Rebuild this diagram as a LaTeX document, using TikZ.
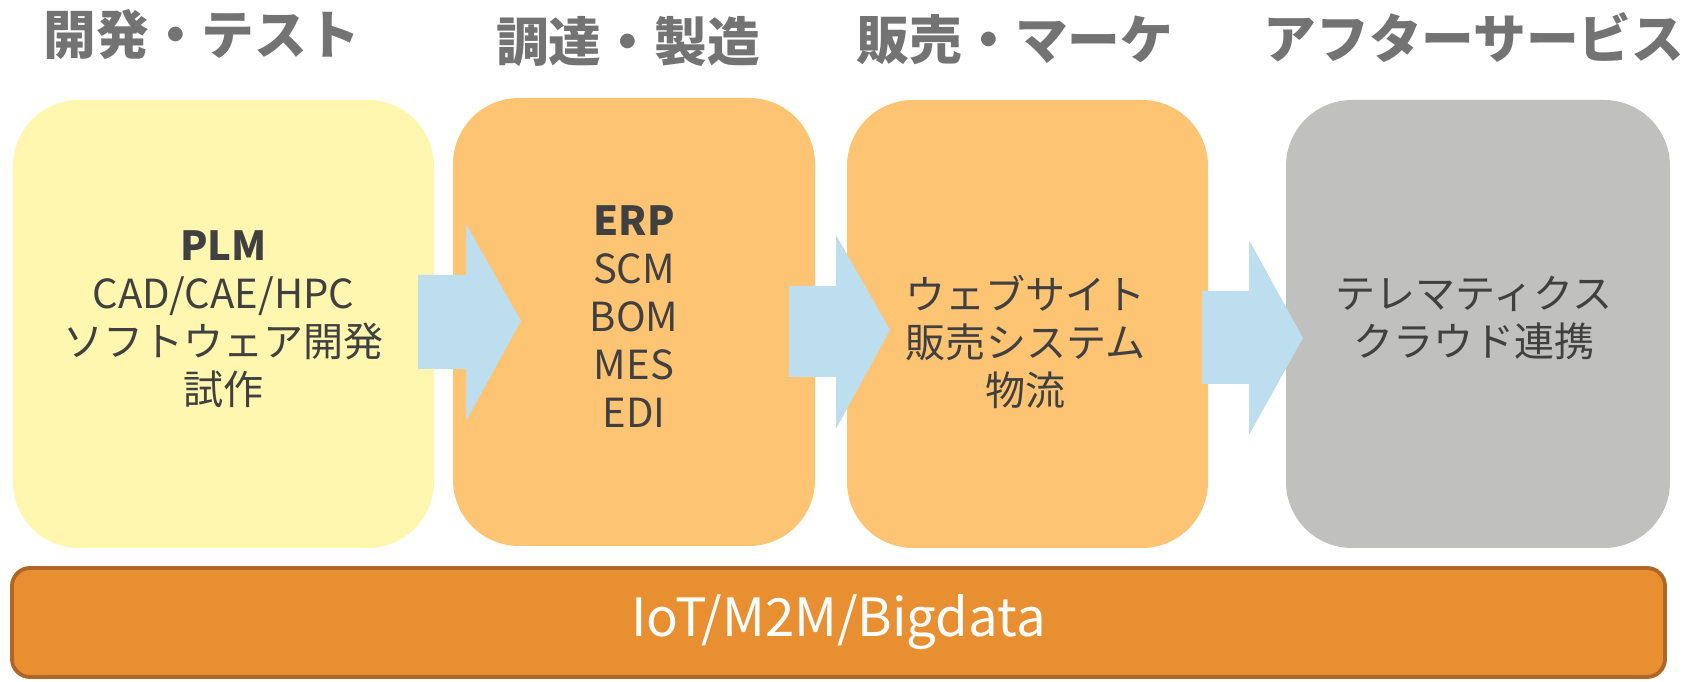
\documentclass[tikz,border=0pt]{standalone}
\usepackage{fontspec}
\setmainfont{Noto Sans CJK JP}
\usepackage{tkz-euclide}

\definecolor{plmYellow}{RGB}{255,246,176}
\definecolor{erpOrange}{RGB}{253,196,115}
\definecolor{svcGray}{RGB}{192,192,190}
\definecolor{flowBlue}{RGB}{189,222,238}
\definecolor{barOrange}{RGB}{232,143,50}
\definecolor{barEdge}{RGB}{176,102,38}
\definecolor{headGray}{RGB}{115,115,115}
\definecolor{bodyGray}{RGB}{64,64,64}

\begin{document}
\begin{tikzpicture}[
  stage/.style={rounded corners=0.66cm,inner sep=0pt,
    minimum width=#1,minimum height=4.48cm},
  head/.style={text=headGray,
    font=\fontsize{15pt}{18pt}\selectfont\bfseries},
  body/.style={text=bodyGray,align=center,
    font=\fontsize{11.4pt}{13.66pt}\selectfont}]
 \useasboundingbox (0,0) rectangle (16.91,6.81);
 % stages
 \node[stage=4.21cm,fill=plmYellow] (dev) at (2.235,3.57) {};
 \node[stage=3.62cm,fill=erpOrange] (mfg) at (6.34,3.59) {};
 \node[stage=3.61cm,fill=erpOrange] (mkt) at (10.275,3.57) {};
 \node[stage=3.84cm,fill=svcGray] (svc) at (14.78,3.57) {};
 % arrows between stages
 \tkzDefPoints{4.18/4.06/a_1,4.66/4.06/a_2,4.66/4.57/a_3,
   5.21/3.60/a_4,4.66/2.60/a_5,4.66/3.12/a_6,4.18/3.12/a_7}
 \tkzDefPoints{7.89/3.95/b_1,8.36/3.95/b_2,8.36/4.46/b_3,
   8.90/3.51/b_4,8.36/2.52/b_5,8.36/3.04/b_6,7.89/3.04/b_7}
 \tkzDefPoints{12.02/3.90/c_1,12.49/3.90/c_2,12.49/4.41/c_3,
   13.03/3.43/c_4,12.49/2.46/c_5,12.49/2.97/c_6,12.02/2.97/c_7}
 \tkzFillPolygon[color=flowBlue](a_1,a_2,a_3,a_4,a_5,a_6,a_7)
 \tkzFillPolygon[color=flowBlue](b_1,b_2,b_3,b_4,b_5,b_6,b_7)
 \tkzFillPolygon[color=flowBlue](c_1,c_2,c_3,c_4,c_5,c_6,c_7)
 % titles
 \node[head] (devT) at (2.02,6.46) {開発・テスト};
 \node[head] (mfgT) at (6.28,6.39) {調達・製造};
 \node[head] (mktT) at (10.15,6.41) {販売・マーケ};
 \node[head] (svcT) at (14.74,6.43) {アフターサービス};
 % contents
 \node[body] (devB) at ([yshift=0.05cm]dev.center)
   {\textbf{PLM}\\CAD/CAE/HPC\\ソフトウェア開発\\試作};
 \node[body] (mfgB) at ([yshift=0.05cm]mfg.center)
   {\textbf{ERP}\\SCM\\BOM\\MES\\EDI};
 \node[body] (mktB) at ([shift={(-0.02,-0.18)}]mkt.center)
   {ウェブサイト\\販売システム\\物流};
 \node[body] (svcB) at ([shift={(-0.04,0.06)}]svc.center)
   {テレマティクス\\クラウド連携};
 % platform bar
 \node[rounded corners=0.18cm,fill=barOrange,draw=barEdge,
   line width=1.1pt,minimum width=16.53cm,minimum height=1.09cm,
   text=white,font=\fontsize{15pt}{18pt}\selectfont]
   (iot) at (8.385,0.585) {IoT/M2M/Bigdata};
\end{tikzpicture}
\end{document}
